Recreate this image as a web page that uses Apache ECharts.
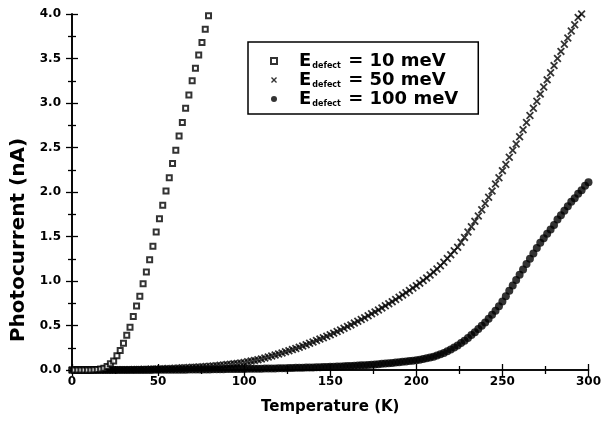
<!DOCTYPE html>
<html>
<head>
<meta charset="utf-8">
<script src="https://cdn.jsdelivr.net/npm/echarts@6/dist/echarts.min.js"></script>
<style>html,body{margin:0;padding:0;background:#fff;}#c{width:604px;height:423px;}</style>
</head>
<body>
<div id="c"></div>
<script>
// Series labels
var seriesNames = ['10 meV', '50 meV', '100 meV'];

// E_defect = 10 meV (open squares)
var tempA = [1.4, 3.3, 5.2, 7.1, 9.0, 10.9, 12.8, 14.7, 16.6, 18.5, 20.4, 22.3, 24.2, 26.1, 28.0, 29.9, 31.8, 33.7, 35.6, 37.5, 39.4, 41.3, 43.2, 45.1, 47.0, 48.9, 50.8, 52.7, 54.6, 56.5, 58.4, 60.3, 62.2, 64.1, 66.0, 67.9, 69.8, 71.7, 73.6, 75.5, 77.4, 79.3];
var currA = [0, 0, 0, 0, 0, 0, 0.002, 0.005, 0.01, 0.02, 0.04, 0.07, 0.10, 0.16, 0.22, 0.30, 0.39, 0.48, 0.60, 0.72, 0.83, 0.97, 1.10, 1.24, 1.39, 1.55, 1.70, 1.85, 2.01, 2.16, 2.32, 2.47, 2.63, 2.78, 2.94, 3.09, 3.25, 3.39, 3.54, 3.68, 3.83, 3.98];

// Temperatures for the 50 meV and 100 meV series
var tempBC = [
  0, 2, 4, 6, 8, 10, 12, 14, 16, 18,
  20, 22, 24, 26, 28, 30, 32, 34, 36, 38,
  40, 42, 44, 46, 48, 50, 52, 54, 56, 58,
  60, 62, 64, 66, 68, 70, 72, 74, 76, 78,
  80, 82, 84, 86, 88, 90, 92, 94, 96, 98,
  100, 102, 104, 106, 108, 110, 112, 114, 116, 118,
  120, 122, 124, 126, 128, 130, 132, 134, 136, 138,
  140, 142, 144, 146, 148, 150, 152, 154, 156, 158,
  160, 162, 164, 166, 168, 170, 172, 174, 176, 178,
  180, 182, 184, 186, 188, 190, 192, 194, 196, 198,
  200, 202, 204, 206, 208, 210, 212, 214, 216, 218,
  220, 222, 224, 226, 228, 230, 232, 234, 236, 238,
  240, 242, 244, 246, 248, 250, 252, 254, 256, 258,
  260, 262, 264, 266, 268, 270, 272, 274, 276, 278,
  280, 282, 284, 286, 288, 290, 292, 294, 296, 298,
  300];

// E_defect = 50 meV (crosses)
var currB = [
  0, 0, 0, 0, 0, 0, 0, 0, 0, 0,
  0.001, 0.001, 0.001, 0.002, 0.002, 0.003, 0.003, 0.004, 0.005, 0.006,
  0.007, 0.008, 0.009, 0.010, 0.011, 0.012, 0.014, 0.015, 0.017, 0.018,
  0.020, 0.022, 0.024, 0.026, 0.028, 0.030, 0.032, 0.035, 0.037, 0.040,
  0.043, 0.046, 0.049, 0.053, 0.057, 0.061, 0.065, 0.069, 0.074, 0.079,
  0.085, 0.092, 0.100, 0.108, 0.116, 0.125, 0.135, 0.146, 0.157, 0.168,
  0.180, 0.192, 0.204, 0.216, 0.229, 0.242, 0.256, 0.270, 0.285, 0.300,
  0.315, 0.331, 0.347, 0.363, 0.380, 0.397, 0.414, 0.432, 0.450, 0.469,
  0.488, 0.507, 0.527, 0.547, 0.567, 0.588, 0.609, 0.631, 0.653, 0.675,
  0.698, 0.721, 0.744, 0.768, 0.792, 0.817, 0.842, 0.868, 0.894, 0.921,
  0.948, 0.976, 1.005, 1.035, 1.067, 1.100, 1.135, 1.172, 1.211, 1.252,
  1.295, 1.340, 1.380, 1.435, 1.490, 1.550, 1.610, 1.670, 1.730, 1.800,
  1.870, 1.940, 2.010, 2.090, 2.160, 2.240, 2.310, 2.390, 2.470, 2.540,
  2.620, 2.700, 2.780, 2.860, 2.940, 3.020, 3.100, 3.180, 3.260, 3.340,
  3.420, 3.500, 3.580, 3.660, 3.730, 3.810, 3.880, 3.960, 4.000, 4.060,
  4.120];

// E_defect = 100 meV (filled circles)
var currC = [
  0, 0, 0, 0, 0, 0, 0, 0, 0, 0,
  0, 0, 0, 0, 0, 0, 0, 0, 0, 0,
  0.001, 0.001, 0.001, 0.001, 0.002, 0.002, 0.002, 0.002, 0.003, 0.003,
  0.003, 0.004, 0.004, 0.004, 0.005, 0.005, 0.006, 0.006, 0.006, 0.007,
  0.007, 0.008, 0.008, 0.009, 0.009, 0.010, 0.010, 0.011, 0.011, 0.012,
  0.012, 0.013, 0.013, 0.014, 0.015, 0.015, 0.016, 0.017, 0.017, 0.018,
  0.019, 0.020, 0.021, 0.022, 0.023, 0.024, 0.025, 0.026, 0.027, 0.028,
  0.029, 0.030, 0.032, 0.033, 0.034, 0.036, 0.037, 0.039, 0.040, 0.042,
  0.044, 0.046, 0.048, 0.050, 0.052, 0.054, 0.057, 0.060, 0.063, 0.066,
  0.069, 0.072, 0.076, 0.080, 0.084, 0.088, 0.092, 0.096, 0.100, 0.105,
  0.110, 0.116, 0.123, 0.131, 0.140, 0.150, 0.162, 0.176, 0.192, 0.210,
  0.230, 0.252, 0.276, 0.302, 0.330, 0.360, 0.392, 0.425, 0.460, 0.497,
  0.535, 0.575, 0.620, 0.667, 0.715, 0.770, 0.830, 0.890, 0.950, 1.010,
  1.070, 1.130, 1.190, 1.250, 1.310, 1.370, 1.430, 1.480, 1.530, 1.580,
  1.630, 1.690, 1.740, 1.790, 1.840, 1.890, 1.930, 1.980, 2.020, 2.070,
  2.110];

function pairs(xs, ys) {
  var out = [];
  for (var i = 0; i < xs.length; i++) out.push([xs[i], ys[i]]);
  return out;
}

var FONT = '"DejaVu Sans", Verdana, sans-serif';
var crossPath = 'path://M0,1.6L1.6,0L5,3.4L8.4,0L10,1.6L6.6,5L10,8.4L8.4,10L5,6.6L1.6,10L0,8.4L3.4,5Z';

var axisLineStyle = { color: '#000', width: 1.6 };
var tickLine = { color: '#000', width: 1.3 };
var chart = echarts.init(document.getElementById('c'), null, { renderer: 'canvas' });

var option = {
  backgroundColor: '#fff',
  animation: false,
  grid: { left: 72, right: 13, top: 14, bottom: 53, containLabel: false },
  legend: {
    orient: 'vertical',
    left: 248,
    top: 42,
    padding: [10, 20, 5, 22],
    itemGap: 0,
    itemWidth: 6,
    itemHeight: 6,
    borderColor: '#000',
    borderWidth: 1.5,
    backgroundColor: '#fff',
    data: seriesNames,
    formatter: function (name) {
      return '{e|E}{s|defect}{n| = ' + name + '}';
    },
    textStyle: {
      padding: [0, 0, 0, 17],
      rich: {
        e: { fontFamily: FONT, fontWeight: 'bold', fontSize: 18, lineHeight: 20, color: '#000', verticalAlign: 'middle' },
        s: { fontFamily: FONT, fontWeight: 'bold', fontSize: 8, lineHeight: 8, color: '#000', verticalAlign: 'bottom', padding: [0, 1, 1, 1] },
        n: { fontFamily: FONT, fontWeight: 'bold', fontSize: 18, lineHeight: 20, color: '#000', verticalAlign: 'middle' }
      }
    }
  },
  xAxis: [{
    type: 'value', min: 0, max: 300, interval: 50,
    name: 'Temperature (K)', nameLocation: 'middle', nameGap: 30,
    nameTextStyle: { fontFamily: FONT, fontWeight: 'bold', fontSize: 15, color: '#000' },
    axisLine: { show: true, lineStyle: axisLineStyle },
    axisTick: { show: true, inside: true, length: 6, lineStyle: tickLine },
    minorTick: { show: true, splitNumber: 2, length: 4, lineStyle: tickLine },
    axisLabel: { fontFamily: FONT, fontWeight: 'bold', fontSize: 12, color: '#000', margin: 6 },
    splitLine: { show: false }
  }, {
    type: 'value', min: 0, max: 300, interval: 50, position: 'top',
    axisLine: { show: true, lineStyle: axisLineStyle },
    axisTick: { show: true, inside: true, length: 6, lineStyle: tickLine },
    minorTick: { show: true, splitNumber: 2, length: 4, lineStyle: tickLine },
    axisLabel: { show: false },
    splitLine: { show: false }
  }],
  yAxis: [{
    type: 'value', min: 0, max: 4, interval: 0.5,
    name: 'Photocurrent (nA)', nameLocation: 'middle', nameGap: 40, nameRotate: 90,
    nameTextStyle: { fontFamily: FONT, fontWeight: 'bold', fontSize: 20, color: '#000', padding: [0, 96, 0, 0] },
    axisLine: { show: true, lineStyle: axisLineStyle },
    axisTick: { show: true, inside: true, length: 6, lineStyle: tickLine },
    minorTick: { show: true, splitNumber: 2, length: 4, lineStyle: tickLine },
    axisLabel: { fontFamily: FONT, fontWeight: 'bold', fontSize: 12, color: '#000', margin: 11,
      formatter: function (v) { return v.toFixed(1); } },
    splitLine: { show: false }
  }, {
    type: 'value', min: 0, max: 4, interval: 0.5, position: 'right',
    axisLine: { show: true, lineStyle: axisLineStyle },
    axisTick: { show: true, inside: true, length: 6, lineStyle: tickLine },
    minorTick: { show: true, splitNumber: 2, length: 4, lineStyle: tickLine },
    axisLabel: { show: false },
    splitLine: { show: false }
  }],
  series: [{
    name: seriesNames[1], type: 'scatter', xAxisIndex: 0, yAxisIndex: 0,
    symbol: crossPath, symbolSize: 8, clip: true,
    itemStyle: { color: '#000' },
    data: pairs(tempBC, currB), z: 2
  }, {
    name: seriesNames[2], type: 'scatter', xAxisIndex: 0, yAxisIndex: 0,
    symbol: 'circle', symbolSize: 8, clip: true,
    itemStyle: { color: '#000' },
    data: pairs(tempBC, currC), z: 3
  }, {
    name: seriesNames[0], type: 'scatter', xAxisIndex: 0, yAxisIndex: 0,
    symbol: 'rect', symbolSize: 5, clip: true,
    itemStyle: { color: '#fff', borderColor: '#000', borderWidth: 2 },
    data: pairs(tempA, currA), z: 4
  }]
};
chart.setOption(option);
</script>
</body>
</html>
